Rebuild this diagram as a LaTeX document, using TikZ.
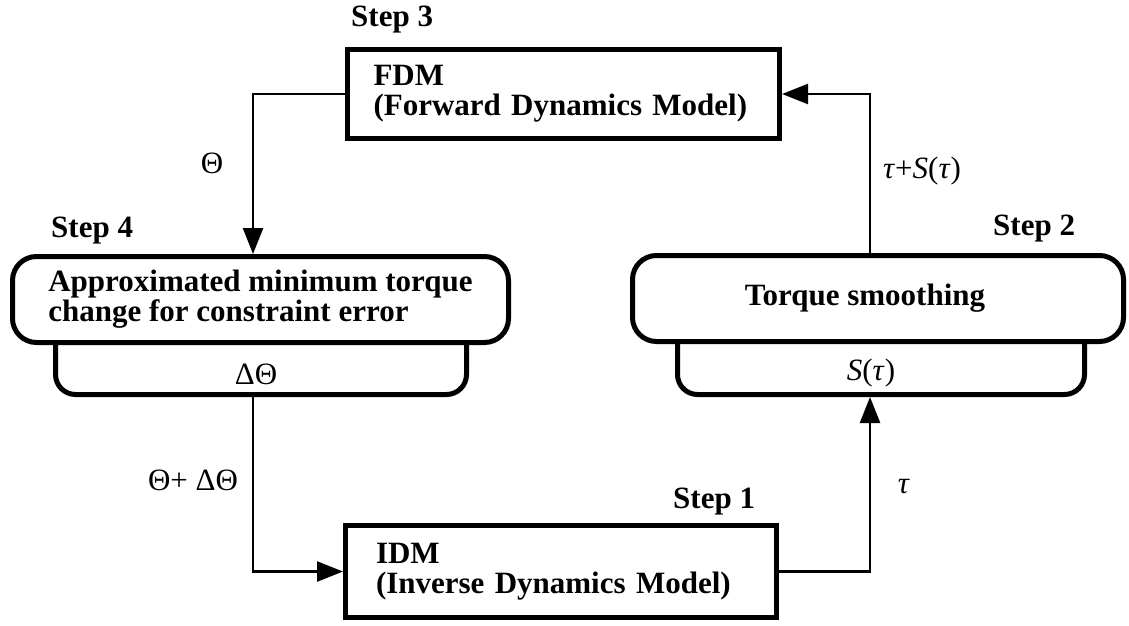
\documentclass[tikz,border=0pt]{standalone}
\usepackage{fontspec}
\setmainfont{Liberation Serif}
\usetikzlibrary{arrows.meta,calc}
\begin{document}
\begin{tikzpicture}[x=1pt,y=-1pt,
  bigfont/.style={font=\fontsize{31}{30}\selectfont\bfseries},
  lblfont/.style={font=\fontsize{31}{30}\selectfont},
  plainbox/.style={draw, line width=5pt, rectangle, inner sep=0pt, bigfont, text width=#1, align=left},
  roundbox/.style={draw, line width=5pt, rounded corners=24pt, fill=white, inner sep=0pt, bigfont, align=center},
  tray/.style={draw, line width=5pt, rounded corners=20pt, inner sep=0pt},
  steplbl/.style={bigfont, inner sep=0pt, anchor=base west},
  sig/.style={lblfont, inner sep=0pt},
  conn/.style={line width=2.5pt, -{Triangle[length=26pt,width=20pt]}},
]
\useasboundingbox (0,0) rectangle (1129,626);

% model blocks
\node[plainbox=380pt, minimum width=432pt, minimum height=89pt] (fdm) at (563.5,94) {FDM\\(Forward Dynamics Model)};
\node[plainbox=370pt, minimum width=431pt, minimum height=92pt] (idm) at (561,571.5) {IDM\\(Inverse Dynamics Model)};

% step 4 block with its output tray
\node[tray, minimum width=411pt, minimum height=94.5pt] (s4tray) at (261,347.25) {};
\node[roundbox, minimum width=496pt, minimum height=86pt, align=left] (s4) at (260.5,299.5) {Approximated minimum torque\\change for constraint error};
\node[sig] (dtheta) at (256,374) {ΔΘ};

% step 2 block with its output tray
\node[tray, minimum width=407pt, minimum height=94.5pt] (tstray) at (881,347.25) {};
\node[roundbox, minimum width=491pt, minimum height=86pt] (ts) at (878,298.5) {Torque smoothing\hspace*{26pt}};
\node[sig] (stau) at (871,373) {\textit{S}(\textit{τ})};

% step labels
\node[steplbl] (st3) at (351,27) {Step 3};
\node[steplbl] (st4) at (51,237) {Step 4};
\node[steplbl] (st2) at (993,235) {Step 2};
\node[steplbl] (st1) at (673,508) {Step 1};

% signal flow
\coordinate (lx) at (253,0);
\coordinate (rx) at (870,0);
\draw[conn] (fdm.west) -| (lx |- s4.north);
\draw[conn] (lx |- s4tray.south) |- (idm.west);
\draw[conn] (idm.east) -| (rx |- tstray.south);
\draw[conn] (rx |- ts.north) |- (fdm.east);

% signal labels
\node[sig] (theta) at (212,163) {Θ};
\node[sig, anchor=base west] (tsum) at (883,178) {\textit{τ}+\textit{S}(\textit{τ})};
\node[sig] (tau) at (904,487) {\textit{τ}};
\node[sig] (thsum) at (193,480) {Θ+ ΔΘ};
\end{tikzpicture}
\end{document}
